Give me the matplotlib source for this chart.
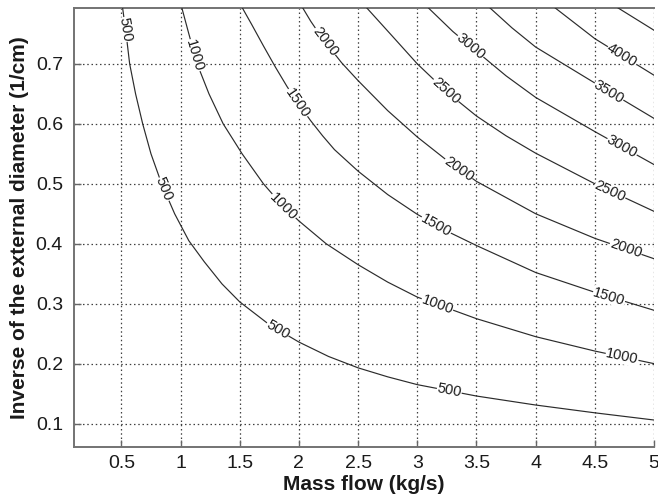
import numpy as np
import matplotlib
matplotlib.use("Agg")
import matplotlib.pyplot as plt

plt.rcParams['font.family'] = ['Liberation Sans', 'DejaVu Sans']

# Contour levels and the curves (mass flow, inverse diameter)
levels = [500, 1000, 1500, 2000, 2500, 3000, 3500, 4000, 4500]

mass_500 = [0.51, 0.54, 0.57, 0.62, 0.68, 0.75, 0.84, 0.95, 1.07, 1.2, 1.35, 1.5, 1.75, 2.0,
            2.25, 2.5, 2.75, 3.0, 3.5, 4.0, 4.5, 5.0]
invd_500 = [0.794, 0.75, 0.70, 0.65, 0.60, 0.55, 0.50, 0.45, 0.405, 0.37, 0.333, 0.303, 0.265,
            0.236, 0.212, 0.193, 0.178, 0.165, 0.146, 0.131, 0.118, 0.106]

mass_1000 = [1.01, 1.07, 1.14, 1.24, 1.36, 1.52, 1.70, 1.85, 2.0, 2.23, 2.5, 2.75, 3.0, 3.5,
             4.0, 4.5, 5.0]
invd_1000 = [0.794, 0.75, 0.70, 0.65, 0.60, 0.55, 0.50, 0.466, 0.438, 0.40, 0.365, 0.336,
             0.311, 0.275, 0.245, 0.221, 0.200]

mass_1500 = [1.52, 1.6, 1.7, 1.8, 1.9, 2.0, 2.1, 2.2, 2.3, 2.5, 2.75, 3.0, 3.25, 3.5, 4.0, 4.5, 5.0]
invd_1500 = [0.794, 0.766, 0.73, 0.695, 0.662, 0.632, 0.605, 0.580, 0.557, 0.521, 0.482, 0.449,
             0.421, 0.397, 0.352, 0.319, 0.289]

mass_2000 = [2.03, 2.1, 2.2, 2.36, 2.5, 2.75, 3.0, 3.25, 3.5, 4.0, 4.5, 5.0]
invd_2000 = [0.794, 0.771, 0.742, 0.702, 0.672, 0.622, 0.578, 0.539, 0.504, 0.450, 0.409, 0.375]

mass_2500 = [2.57, 2.79, 3.0, 3.25, 3.5, 3.75, 4.0, 4.5, 5.0]
invd_2500 = [0.794, 0.746, 0.70, 0.653, 0.613, 0.580, 0.551, 0.500, 0.454]

mass_3000 = [3.09, 3.3, 3.5, 3.75, 4.0, 4.5, 5.0]
invd_3000 = [0.794, 0.754, 0.721, 0.680, 0.644, 0.587, 0.532]

mass_3500 = [3.61, 3.8, 4.0, 4.5, 5.0]
invd_3500 = [0.794, 0.760, 0.728, 0.668, 0.609]

mass_4000 = [4.16, 4.5, 5.0]
invd_4000 = [0.794, 0.742, 0.681]

mass_4500 = [4.69, 5.0]
invd_4500 = [0.794, 0.756]

# x positions of the inline labels on each curve
label_x_500 = [0.535, 0.86, 1.82, 3.27]
label_x_1000 = [1.12, 1.87, 3.17, 4.73]
label_x_1500 = [1.99, 3.16, 4.62]
label_x_2000 = [2.22, 3.35, 4.76]
label_x_2500 = [3.24, 4.63]
label_x_3000 = [3.45, 4.73]
label_x_3500 = [4.62]
label_x_4000 = [4.73]
label_x_4500 = []

x_ticks = [0.5, 1, 1.5, 2, 2.5, 3, 3.5, 4, 4.5, 5]
x_tick_labels = ['0.5', '1', '1.5', '2', '2.5', '3', '3.5', '4', '4.5', '5']
y_ticks = [0.1, 0.2, 0.3, 0.4, 0.5, 0.6, 0.7]
y_tick_labels = ['0.1', '0.2', '0.3', '0.4', '0.5', '0.6', '0.7']

curves = [
    (mass_500, invd_500, label_x_500),
    (mass_1000, invd_1000, label_x_1000),
    (mass_1500, invd_1500, label_x_1500),
    (mass_2000, invd_2000, label_x_2000),
    (mass_2500, invd_2500, label_x_2500),
    (mass_3000, invd_3000, label_x_3000),
    (mass_3500, invd_3500, label_x_3500),
    (mass_4000, invd_4000, label_x_4000),
    (mass_4500, invd_4500, label_x_4500),
]

fig = plt.figure(figsize=(6.58, 5.0), dpi=100)
ax = fig.add_axes([0.1125, 0.106, 0.8815, 0.879])
ax.set_xlim(0.1, 5.0)
ax.set_ylim(0.061, 0.794)

ax.set_xticks(x_ticks)
ax.set_xticklabels(x_tick_labels)
ax.set_yticks(y_ticks)
ax.set_yticklabels(y_tick_labels)
ax.grid(True, linestyle=(0, (1.2, 2.2)), color='0.25', linewidth=0.9)
ax.set_axisbelow(True)
ax.tick_params(direction='in', length=5, width=1, color='0.4',
               labelsize=14, labelcolor='#1a1a1a', top=False, right=False)
ax.tick_params(axis='y', pad=8)
ax.tick_params(axis='x', pad=6)
for s in ax.spines.values():
    s.set_color('0.45')
    s.set_linewidth(1.4)
ax.spines['right'].set_visible(False)

ax.set_xlabel('Mass flow (kg/s)', fontsize=15, fontweight='bold', color='#1a1a1a', labelpad=2)
ax.set_ylabel('Inverse of the external diameter (1/cm)', fontsize=15, fontweight='bold',
              color='#1a1a1a', labelpad=5)

line_color = '#2b2b2b'
for lev, (mx, iy, lx) in zip(levels, curves):
    ax.plot(mx, iy, color=line_color, linewidth=0.85, zorder=3)
    for xl in lx:
        yl = np.interp(xl, mx, iy)
        x0, x1 = xl - 0.04, xl + 0.04
        p0 = ax.transData.transform((x0, np.interp(x0, mx, iy)))
        p1 = ax.transData.transform((x1, np.interp(x1, mx, iy)))
        ang = np.degrees(np.arctan2(p1[1] - p0[1], p1[0] - p0[0]))
        ax.text(xl, yl, str(lev), rotation=ang, rotation_mode='anchor',
                ha='center', va='center', fontsize=10.5, color='#1a1a1a', zorder=4,
                bbox=dict(facecolor='white', edgecolor='none', pad=0.2))

fig.savefig('out.png', dpi=100)
